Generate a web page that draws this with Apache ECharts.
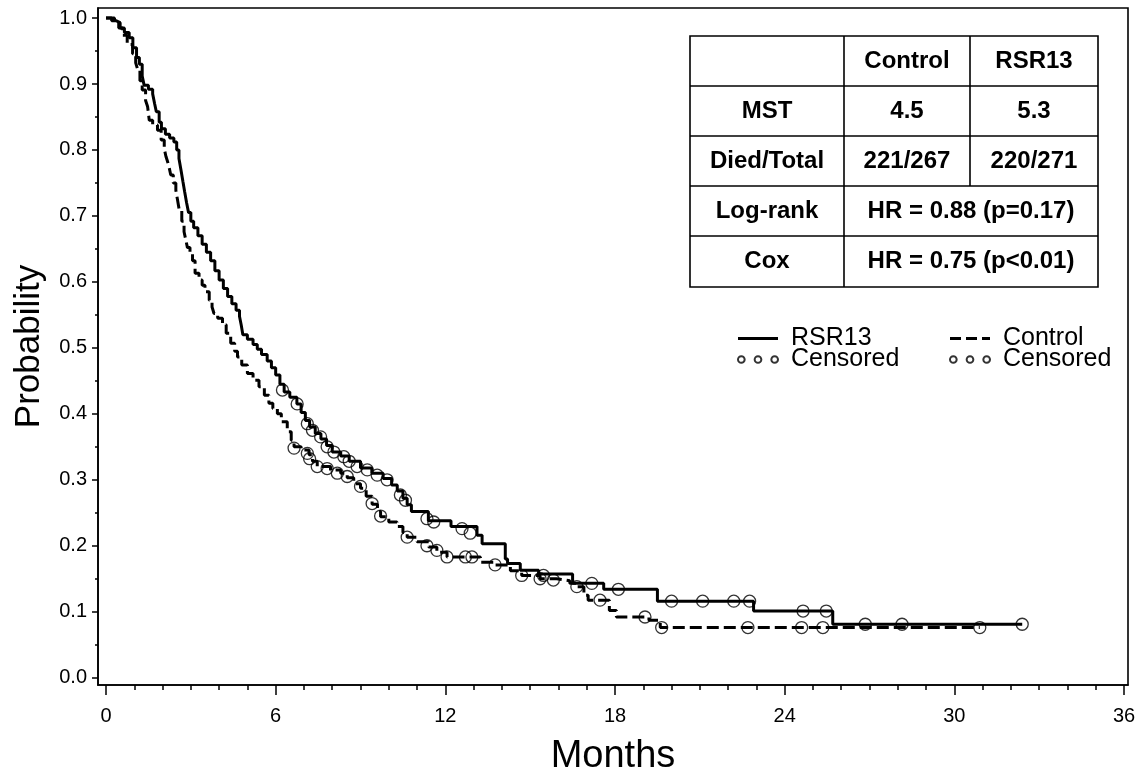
<!DOCTYPE html>
<html>
<head>
<meta charset="utf-8">
<title>Survival RSR13 vs Control</title>
<script src="https://cdn.jsdelivr.net/npm/echarts@6/dist/echarts.min.js"></script>
<style>
  html, body { margin: 0; padding: 0; background: #fff; }
  #chart { width: 1141px; height: 774px; }
</style>
</head>
<body>
<div id="chart"></div>
<script>
// Kaplan-Meier steps: [month, survival after the drop]
const rsr13Curve = [
  [0, 1.0], [0.2, 0.996], [0.35, 0.993], [0.5, 0.985], [0.65, 0.978], [0.82, 0.97],
  [0.95, 0.955], [1.08, 0.94], [1.18, 0.93], [1.28, 0.912], [1.35, 0.898], [1.5, 0.892],
  [1.65, 0.885], [1.72, 0.87], [1.78, 0.858], [1.88, 0.842], [1.96, 0.832], [2.1, 0.824],
  [2.25, 0.818], [2.4, 0.812], [2.5, 0.8], [2.58, 0.787], [2.65, 0.77], [2.72, 0.752],
  [2.78, 0.737], [2.85, 0.72], [2.92, 0.705], [3.0, 0.692], [3.1, 0.682], [3.25, 0.67],
  [3.4, 0.657], [3.55, 0.645], [3.7, 0.632], [3.85, 0.617], [4.0, 0.603], [4.15, 0.59],
  [4.3, 0.578], [4.45, 0.567], [4.6, 0.557], [4.72, 0.548], [4.78, 0.535], [4.84, 0.52],
  [5.0, 0.513], [5.2, 0.505], [5.35, 0.498], [5.5, 0.49], [5.7, 0.48], [5.85, 0.47],
  [6.0, 0.459], [6.15, 0.445], [6.3, 0.433], [6.5, 0.425], [6.75, 0.415], [6.9, 0.402],
  [7.05, 0.39], [7.2, 0.38], [7.4, 0.37], [7.6, 0.362], [7.8, 0.352], [8.0, 0.342],
  [8.3, 0.336], [8.6, 0.328], [9.0, 0.318], [9.4, 0.31], [9.8, 0.302], [10.1, 0.292],
  [10.3, 0.283], [10.5, 0.272], [10.65, 0.262], [10.8, 0.252], [11.4, 0.238], [12.2, 0.229],
  [13.12, 0.216], [13.3, 0.203], [14.12, 0.18], [14.2, 0.173], [14.65, 0.163], [15.3, 0.157],
  [16.5, 0.143], [17.6, 0.134], [19.5, 0.116], [22.9, 0.101], [25.7, 0.081], [32.4, 0.081]
];
const controlCurve = [
  [0, 1.0], [0.3, 0.993], [0.45, 0.985], [0.59, 0.974], [0.75, 0.96], [0.94, 0.946],
  [1.05, 0.932], [1.12, 0.922], [1.2, 0.905], [1.28, 0.891], [1.4, 0.875], [1.47, 0.866],
  [1.53, 0.845], [1.65, 0.838], [1.82, 0.83], [1.95, 0.815], [2.06, 0.802], [2.12, 0.79],
  [2.18, 0.782], [2.24, 0.772], [2.29, 0.762], [2.38, 0.75], [2.47, 0.739], [2.53, 0.724],
  [2.59, 0.709], [2.68, 0.692], [2.76, 0.676], [2.82, 0.664], [2.88, 0.652], [2.97, 0.642],
  [3.06, 0.632], [3.15, 0.613], [3.29, 0.603], [3.4, 0.595], [3.5, 0.585], [3.65, 0.572],
  [3.75, 0.562], [3.82, 0.552], [3.95, 0.545], [4.12, 0.535], [4.25, 0.522], [4.41, 0.507],
  [4.55, 0.495], [4.65, 0.486], [4.8, 0.474], [5.0, 0.461], [5.2, 0.451], [5.41, 0.441],
  [5.6, 0.428], [5.76, 0.416], [5.9, 0.408], [6.06, 0.4], [6.2, 0.388], [6.41, 0.373],
  [6.55, 0.36], [6.65, 0.35], [6.9, 0.345], [7.18, 0.338], [7.3, 0.328], [7.47, 0.32],
  [7.94, 0.315], [8.3, 0.31], [8.53, 0.303], [8.76, 0.294], [9.0, 0.287], [9.2, 0.275],
  [9.41, 0.263], [9.6, 0.252], [9.71, 0.244], [10.0, 0.236], [10.29, 0.229], [10.5, 0.22],
  [10.65, 0.213], [11.0, 0.206], [11.41, 0.198], [11.7, 0.19], [12.06, 0.183], [13.24, 0.175],
  [13.76, 0.171], [14.3, 0.162], [14.7, 0.155], [15.35, 0.15], [15.94, 0.147], [16.4, 0.143],
  [16.65, 0.138], [16.9, 0.125], [17.05, 0.1175], [17.8, 0.102], [18.05, 0.092], [19.2, 0.087],
  [19.6, 0.076], [30.9, 0.076]
];
const rsr13Censored = [
  [6.24, 0.436], [6.76, 0.415], [7.12, 0.385], [7.3, 0.375], [7.59, 0.365], [7.82, 0.35],
  [8.06, 0.342], [8.41, 0.335], [8.6, 0.328], [8.88, 0.32], [9.24, 0.315], [9.59, 0.307],
  [9.94, 0.3], [10.41, 0.277], [10.59, 0.269], [11.35, 0.241], [11.59, 0.236], [12.59, 0.226],
  [12.88, 0.219], [15.47, 0.155], [17.18, 0.143], [18.12, 0.134], [20.0, 0.116], [21.1, 0.116],
  [22.2, 0.116], [22.76, 0.116], [24.65, 0.101], [25.47, 0.101], [26.85, 0.081], [28.15, 0.081],
  [32.4, 0.081]
];
const controlCensored = [
  [6.65, 0.348], [7.12, 0.34], [7.2, 0.332], [7.47, 0.32], [7.82, 0.317], [8.18, 0.31],
  [8.53, 0.305], [9.0, 0.29], [9.41, 0.264], [9.71, 0.245], [10.65, 0.213], [11.35, 0.2],
  [11.7, 0.193], [12.06, 0.183], [12.71, 0.183], [12.94, 0.183], [13.76, 0.171], [14.7, 0.155],
  [15.35, 0.15], [15.82, 0.148], [16.65, 0.138], [17.47, 0.1175], [19.06, 0.092], [19.65, 0.076],
  [22.7, 0.076], [24.6, 0.076], [25.35, 0.076], [30.9, 0.076]
];

const monthTicks = [0, 6, 12, 18, 24, 30, 36];
const monthMinorTicks = [1, 2, 3, 4, 5, 7, 8, 9, 10, 11, 13, 14, 15, 16, 17, 19, 20, 21, 22, 23,
  25, 26, 27, 28, 29, 31, 32, 33, 34, 35];
const probTicks = [0, 0.1, 0.2, 0.3, 0.4, 0.5, 0.6, 0.7, 0.8, 0.9, 1.0];
const probMinorTicks = [0.05, 0.15, 0.25, 0.35, 0.45, 0.55, 0.65, 0.75, 0.85, 0.95];

const tableHeader = ['', 'Control', 'RSR13'];
const tableBody = [
  ['MST', '4.5', '5.3'],
  ['Died/Total', '221/267', '220/271'],
  ['Log-rank', 'HR = 0.88 (p=0.17)'],
  ['Cox', 'HR = 0.75 (p<0.01)']
];

const FONT = 'Liberation Sans, Arial, Helvetica, sans-serif';
const chart = echarts.init(document.getElementById('chart'));

// axis ranges run a little past 0..36 and 0..1, like the framed plot
const xMin = -0.283, xMax = 36.141;
const yMin = -0.0111, yMax = 1.0152;

// table in the upper right corner
const colX = [690, 844, 970, 1098];
const rowY = [36, 86, 136, 186, 236, 287];
const edge = { stroke: '#000', lineWidth: 1.6 };
const tableEls = [
  { type: 'rect', shape: { x: colX[0], y: rowY[0], width: colX[3] - colX[0], height: rowY[5] - rowY[0] },
    style: Object.assign({ fill: '#fff' }, edge) },
  { type: 'line', shape: { x1: colX[1], y1: rowY[0], x2: colX[1], y2: rowY[5] }, style: edge },
  { type: 'line', shape: { x1: colX[2], y1: rowY[0], x2: colX[2], y2: rowY[3] }, style: edge }
];
for (let i = 1; i < rowY.length - 1; i++) {
  tableEls.push({ type: 'line', shape: { x1: colX[0], y1: rowY[i], x2: colX[3], y2: rowY[i] }, style: edge });
}
[tableHeader].concat(tableBody).forEach(function (row, r) {
  const cy = (rowY[r] + rowY[r + 1]) / 2;
  row.forEach(function (txt, c) {
    let cx = (colX[c] + colX[c + 1]) / 2;
    if (row.length === 2 && c === 1) cx = (colX[1] + colX[3]) / 2;
    tableEls.push({
      type: 'text',
      style: { text: txt, x: cx, y: cy, align: 'center', verticalAlign: 'middle',
        fill: '#000', font: 'bold 24px ' + FONT }
    });
  });
});

const solidIcon = 'path://M0,0H40V3H0Z';
const dashIcon = 'path://M0,0H11V3H0ZM16,0H27V3H16ZM32,0H40V3H32Z';
const censorIcon = 'path://M3,0a3,3 0 1,0 0.01,0zM18,0a3,3 0 1,0 0.01,0zM33,0a3,3 0 1,0 0.01,0z';
const legendText = { fontFamily: FONT, fontSize: 25, color: '#000', padding: [0, 0, 0, 8] };
const legendName = function (name) { return name.indexOf('Censored') === 0 ? 'Censored' : name; };
const tickStyle = { color: '#000', width: 1.5 };

const option = {
  animation: false,
  backgroundColor: '#fff',
  grid: { left: 98, right: 13, top: 8, bottom: 89, outerBoundsMode: 'none', containLabel: false,
    show: true, borderColor: '#000', borderWidth: 1.6 },
  xAxis: [
    {
      type: 'value', min: xMin, max: xMax,
      name: 'Months', nameLocation: 'middle', nameGap: 53,
      nameTextStyle: { fontFamily: FONT, fontSize: 38, color: '#000' },
      axisLine: { show: true, onZero: false, lineStyle: { color: '#000', width: 1.6 } },
      axisTick: { length: 10, customValues: monthTicks, lineStyle: tickStyle },
      axisLabel: { margin: 21, customValues: monthTicks, fontFamily: FONT, fontSize: 20, color: '#000' },
      splitLine: { show: false }
    },
    {
      type: 'value', min: xMin, max: xMax, position: 'bottom',
      axisLine: { show: false, onZero: false },
      axisTick: { length: 5, customValues: monthMinorTicks, lineStyle: tickStyle },
      axisLabel: { show: false },
      splitLine: { show: false }
    }
  ],
  yAxis: [
    {
      type: 'value', min: yMin, max: yMax,
      name: 'Probability', nameLocation: 'middle', nameGap: 51,
      nameTextStyle: { fontFamily: FONT, fontSize: 35, color: '#000' },
      axisLine: { show: true, onZero: false, lineStyle: { color: '#000', width: 1.6 } },
      axisTick: { length: 6, customValues: probTicks, lineStyle: tickStyle },
      axisLabel: { margin: 11, customValues: probTicks, fontFamily: FONT, fontSize: 20, color: '#000',
        formatter: function (v) { return v.toFixed(1); } },
      splitLine: { show: false }
    },
    {
      type: 'value', min: yMin, max: yMax, position: 'left',
      axisLine: { show: false, onZero: false },
      axisTick: { length: 3, customValues: probMinorTicks, lineStyle: tickStyle },
      axisLabel: { show: false },
      splitLine: { show: false }
    }
  ],
  legend: [
    {
      left: 737, top: 326, padding: 0, orient: 'vertical', itemGap: -4, itemWidth: 40, itemHeight: 14,
      selectedMode: false, textStyle: legendText, formatter: legendName,
      data: [{ name: 'RSR13', icon: solidIcon }, { name: 'Censored RSR13', icon: censorIcon }]
    },
    {
      left: 949, top: 326, padding: 0, orient: 'vertical', itemGap: -4, itemWidth: 40, itemHeight: 14,
      selectedMode: false, textStyle: legendText, formatter: legendName,
      data: [{ name: 'Control', icon: dashIcon }, { name: 'Censored Control', icon: censorIcon }]
    }
  ],
  graphic: [
    { type: 'group', z: 5, children: tableEls }
  ],
  series: [
    { name: 'RSR13', type: 'line', step: 'end', data: rsr13Curve, symbol: 'none',
      lineStyle: { color: '#000', width: 3 }, itemStyle: { color: '#000' } },
    { name: 'Control', type: 'line', step: 'end', data: controlCurve, symbol: 'none',
      lineStyle: { color: '#000', width: 3, type: [12, 5] }, itemStyle: { color: '#000' } },
    { name: 'Censored RSR13', type: 'scatter', data: rsr13Censored, symbol: 'circle', symbolSize: 12,
      itemStyle: { color: 'rgba(0,0,0,0)', borderColor: '#000', borderWidth: 1.3 } },
    { name: 'Censored Control', type: 'scatter', data: controlCensored, symbol: 'circle', symbolSize: 12,
      itemStyle: { color: 'rgba(0,0,0,0)', borderColor: '#000', borderWidth: 1.3 } }
  ]
};

chart.setOption(option);
</script>
</body>
</html>
